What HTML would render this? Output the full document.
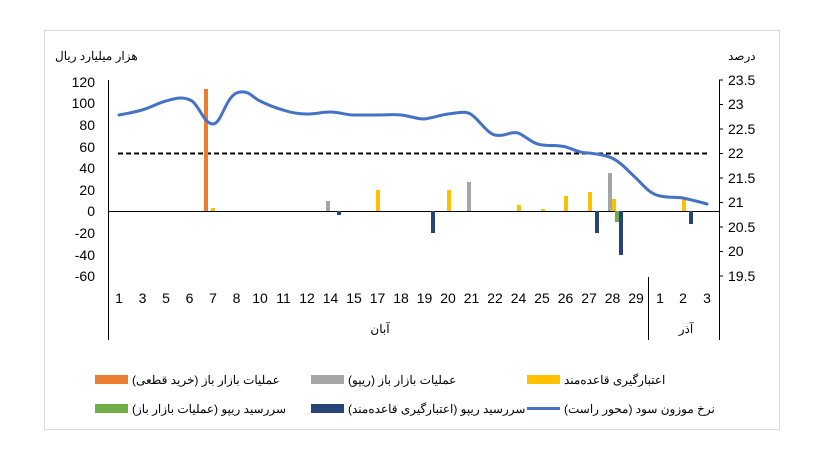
<!DOCTYPE html>
<html><head><meta charset="utf-8"><style>
body{margin:0;background:#fff;width:816px;height:468px;overflow:hidden}
svg{font-family:"Liberation Sans","Noto Sans CJK SC",sans-serif}
</style></head><body>
<svg width="816" height="468" viewBox="0 0 816 468" xmlns="http://www.w3.org/2000/svg">
<rect x="44.5" y="30.5" width="735" height="399" fill="#fff" stroke="#d9d9d9"/>
<g font-size="12" fill="#000">
<text x="55" y="60">هزار میلیارد ریال</text>
<text x="728" y="60">درصد</text>
</g>
<line x1="108.5" y1="80" x2="108.5" y2="340" stroke="#000"/>
<line x1="719.5" y1="80" x2="719.5" y2="340" stroke="#000"/>
<line x1="648.5" y1="277" x2="648.5" y2="340" stroke="#000"/>
<line x1="108" y1="211.5" x2="719" y2="211.5" stroke="#000"/>
<g stroke="#000">
<line x1="719" y1="80" x2="723" y2="80"/><line x1="719" y1="104.5" x2="723" y2="104.5"/><line x1="719" y1="129" x2="723" y2="129"/><line x1="719" y1="153.5" x2="723" y2="153.5"/><line x1="719" y1="178" x2="723" y2="178"/><line x1="719" y1="202.5" x2="723" y2="202.5"/><line x1="719" y1="227" x2="723" y2="227"/><line x1="719" y1="251.5" x2="723" y2="251.5"/><line x1="719" y1="276" x2="723" y2="276"/>
</g>
<g font-size="14" text-anchor="end" fill="#000">
<text x="95" y="87">120</text><text x="95" y="108">100</text><text x="95" y="130">80</text><text x="95" y="152">60</text><text x="95" y="173">40</text><text x="95" y="195">20</text><text x="95" y="216">0</text><text x="95" y="238">-20</text><text x="95" y="260">-40</text><text x="95" y="281">-60</text>
</g>
<g font-size="14" fill="#000">
<text x="728" y="85">23.5</text><text x="728" y="109">23</text><text x="728" y="134">22.5</text><text x="728" y="158">22</text><text x="728" y="183">21.5</text><text x="728" y="207">21</text><text x="728" y="232">20.5</text><text x="728" y="256">20</text><text x="728" y="281">19.5</text>
</g>
<g font-size="14" text-anchor="middle" fill="#000">
<text x="119" y="303">1</text><text x="142.5" y="303">3</text><text x="166" y="303">5</text><text x="189.5" y="303">6</text><text x="213" y="303">7</text><text x="236.5" y="303">8</text><text x="260" y="303">10</text><text x="283.5" y="303">11</text><text x="307" y="303">12</text><text x="330.5" y="303">14</text><text x="354" y="303">15</text><text x="377.5" y="303">17</text><text x="401" y="303">18</text><text x="424.5" y="303">19</text><text x="448" y="303">20</text><text x="471.5" y="303">21</text><text x="495" y="303">22</text><text x="518.5" y="303">24</text><text x="542" y="303">25</text><text x="565.5" y="303">26</text><text x="589" y="303">27</text><text x="612.5" y="303">28</text><text x="636" y="303">29</text><text x="660" y="303">1</text><text x="683" y="303">2</text><text x="707" y="303">3</text>
</g>
<text x="380" y="333" font-size="12" text-anchor="middle">آبان</text>
<text x="686" y="333" font-size="12" text-anchor="middle">آذر</text>
<line x1="118" y1="153.5" x2="710" y2="153.5" stroke="#000" stroke-width="2" stroke-dasharray="5,3"/>
<g>
<rect x="204" y="89" width="4" height="122" fill="#ED7D31"/>
<rect x="211" y="208" width="4" height="3" fill="#FFC000"/>
<rect x="326" y="201" width="4" height="10" fill="#A5A5A5"/>
<rect x="337" y="211" width="4" height="4" fill="#264478"/>
<rect x="376" y="190" width="4" height="21" fill="#FFC000"/>
<rect x="431" y="211" width="4" height="22" fill="#264478"/>
<rect x="447" y="190" width="4" height="21" fill="#FFC000"/>
<rect x="467" y="182" width="4" height="29" fill="#A5A5A5"/>
<rect x="517" y="205" width="4" height="6" fill="#FFC000"/>
<rect x="541" y="209" width="4" height="2" fill="#FFC000"/>
<rect x="564" y="196" width="4" height="15" fill="#FFC000"/>
<rect x="588" y="192" width="4" height="19" fill="#FFC000"/>
<rect x="595" y="211" width="4" height="22" fill="#264478"/>
<rect x="608" y="173" width="4" height="38" fill="#A5A5A5"/>
<rect x="612" y="199" width="4" height="12" fill="#FFC000"/>
<rect x="615" y="211" width="4" height="11" fill="#70AD47"/>
<rect x="619" y="211" width="4" height="44" fill="#264478"/>
<rect x="682" y="198" width="4" height="13" fill="#FFC000"/>
<rect x="689" y="211" width="4" height="13" fill="#264478"/>
</g>
<path d="M119,115 C130,113 135,112 142,110 C152,107 158,103 166,101 C176,98 184,96 192,101 C200,107 204,124 213,124 C222,124 226,93 240,92 C250,91 252,97 260,101 C270,106 276,108 283,110 C292,113 298,114 307,114 C316,114 322,112 330,112 C340,112 345,115 354,115 C364,115 370,115 377,115 C388,115 393,114 401,115 C410,116 417,119 424,119 C433,118 440,115 448,114 C458,113 466,110 472,115 C480,121 487,133 495,135 C505,137 510,131 518,133 C526,136 532,144 542,145 C552,146 558,145 566,147 C575,150 580,153 589,153 C598,154 605,155 612,158 C622,163 628,171 636,178 C645,187 650,194 660,196 C670,198 676,197 683,198 C692,200 700,202 707,204" fill="none" stroke="#4472C4" stroke-width="3" stroke-linecap="round"/>
<g font-size="12" fill="#000">
<rect x="95" y="375" width="33" height="9" fill="#ED7D31"/>
<text x="132" y="384">عملیات بازار باز (خرید قطعی)</text>
<rect x="311" y="375" width="33" height="9" fill="#A5A5A5"/>
<text x="348" y="384">عملیات بازار باز (ریپو)</text>
<rect x="527" y="375" width="33" height="9" fill="#FFC000"/>
<text x="564" y="384">اعتبارگیری قاعده‌مند</text>
<rect x="95" y="404" width="33" height="9" fill="#70AD47"/>
<text x="132" y="413">سررسید ریپو (عملیات بازار باز)</text>
<rect x="311" y="404" width="33" height="9" fill="#264478"/>
<text x="348" y="413">سررسید ریپو (اعتبارگیری قاعده‌مند)</text>
<line x1="527" y1="408.5" x2="560" y2="408.5" stroke="#4472C4" stroke-width="3"/>
<text x="564" y="413">نرخ موزون سود (محور راست)</text>
</g>
</svg>
</body></html>
